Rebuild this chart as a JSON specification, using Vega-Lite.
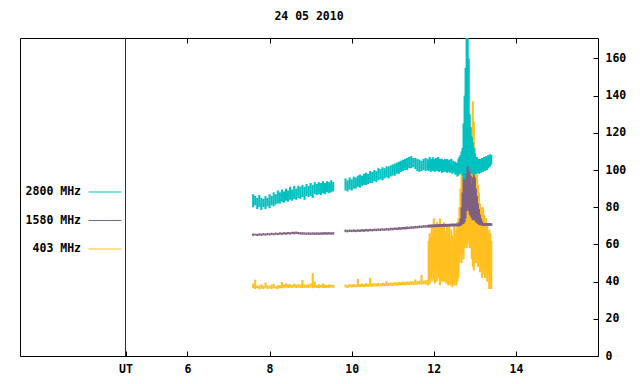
{
"$schema": "https://vega.github.io/schema/vega-lite/v6.json",
"width": 578, "height": 318,
"autosize": {"type": "none"},
"padding": {"left": 20, "top": 38, "right": 42, "bottom": 28},
"background": "white",
"title": {"text": "24 05 2010", "font": "DejaVu Sans Mono", "fontSize": 11.5, "fontWeight": "bold", "offset": 15, "anchor": "middle", "color": "black"},
"config": {
  "view": {"stroke": "black", "strokeWidth": 1},
  "axis": {"grid": false, "domain": false, "labelFont": "DejaVu Sans Mono", "labelFontSize": 11.5, "labelFontWeight": "bold", "labelColor": "black", "tickColor": "black", "tickSize": -5, "title": null}
},
"data": {"values": [
{"t":7.6,"tl":80,"th":87,"pl":64.6,"ph":65.9,"yl":36.5,"yh":39},
{"t":7.65,"tl":81,"th":86,"pl":64.8,"ph":65.8,"yl":36,"yh":41},
{"t":7.7,"tl":79,"th":85,"pl":64.5,"ph":65.7,"yl":36.5,"yh":38},
{"t":7.75,"tl":80,"th":86.5,"pl":64.8,"ph":66,"yl":35.8,"yh":37.8},
{"t":7.8,"tl":78.5,"th":85,"pl":64.6,"ph":65.8,"yl":36.2,"yh":38.5},
{"t":7.85,"tl":80,"th":84.5,"pl":64.9,"ph":66.1,"yl":36,"yh":37.8},
{"t":7.9,"tl":79,"th":86,"pl":64.7,"ph":65.9,"yl":36.5,"yh":39.5},
{"t":7.95,"tl":80.5,"th":85,"pl":65,"ph":66.2,"yl":36,"yh":38},
{"t":8.0,"tl":79.5,"th":87,"pl":64.8,"ph":66,"yl":36.3,"yh":37.8},
{"t":8.05,"tl":81,"th":86,"pl":65.1,"ph":66.3,"yl":36,"yh":38.5},
{"t":8.1,"tl":80.5,"th":88,"pl":64.9,"ph":66.1,"yl":36.5,"yh":38.8},
{"t":8.15,"tl":81.5,"th":87,"pl":65.2,"ph":66.4,"yl":36.2,"yh":37.6},
{"t":8.2,"tl":82,"th":89,"pl":65,"ph":66.2,"yl":36,"yh":38},
{"t":8.25,"tl":82,"th":88,"pl":65.3,"ph":66.5,"yl":36.5,"yh":38.2},
{"t":8.3,"tl":83,"th":89.5,"pl":65.1,"ph":66.3,"yl":36.4,"yh":39.8},
{"t":8.35,"tl":82.5,"th":88.5,"pl":65.4,"ph":66.6,"yl":36.6,"yh":38.4},
{"t":8.4,"tl":83.5,"th":90,"pl":65.2,"ph":66.4,"yl":36.8,"yh":39},
{"t":8.45,"tl":83,"th":89,"pl":65.5,"ph":66.7,"yl":36.5,"yh":38.5},
{"t":8.5,"tl":84,"th":91,"pl":65.3,"ph":66.5,"yl":36.8,"yh":38.6},
{"t":8.55,"tl":83.5,"th":89.5,"pl":65.6,"ph":66.8,"yl":36.6,"yh":38.2},
{"t":8.6,"tl":84.5,"th":91.5,"pl":65.4,"ph":66.8,"yl":36.9,"yh":38.8},
{"t":8.65,"tl":84,"th":90,"pl":65.6,"ph":66.9,"yl":36.5,"yh":38.4},
{"t":8.7,"tl":85,"th":91.5,"pl":65.4,"ph":66.7,"yl":36.8,"yh":38.6},
{"t":8.75,"tl":84.5,"th":91,"pl":65.3,"ph":66.6,"yl":36.6,"yh":38.5},
{"t":8.8,"tl":85.5,"th":92,"pl":65.2,"ph":66.6,"yl":36.5,"yh":40.8},
{"t":8.85,"tl":84,"th":91,"pl":65.3,"ph":66.5,"yl":36.7,"yh":38.6},
{"t":8.9,"tl":86,"th":92.5,"pl":65.1,"ph":66.4,"yl":36.8,"yh":38.2},
{"t":8.95,"tl":85.5,"th":91.5,"pl":65.2,"ph":66.5,"yl":36.6,"yh":38.5},
{"t":9.0,"tl":86,"th":93,"pl":65.1,"ph":66.4,"yl":36.8,"yh":39},
{"t":9.05,"tl":85,"th":92,"pl":65.2,"ph":66.5,"yl":36.5,"yh":44.5},
{"t":9.1,"tl":87,"th":93.5,"pl":65.1,"ph":66.4,"yl":36.8,"yh":40},
{"t":9.15,"tl":86.5,"th":92.5,"pl":65.2,"ph":66.5,"yl":36.6,"yh":38.2},
{"t":9.2,"tl":87,"th":93.5,"pl":65.1,"ph":66.4,"yl":36.5,"yh":38.6},
{"t":9.25,"tl":86.5,"th":93,"pl":65.2,"ph":66.5,"yl":36.8,"yh":38.2},
{"t":9.3,"tl":87.5,"th":94,"pl":65.2,"ph":66.5,"yl":36.6,"yh":39},
{"t":9.35,"tl":87,"th":93,"pl":65.3,"ph":66.6,"yl":36.5,"yh":38.4},
{"t":9.4,"tl":88,"th":94,"pl":65.2,"ph":66.5,"yl":36.7,"yh":38.2},
{"t":9.45,"tl":87.5,"th":93.5,"pl":65.3,"ph":66.6,"yl":36.6,"yh":38.5},
{"t":9.5,"tl":88,"th":94.5,"pl":65.2,"ph":66.5,"yl":36.8,"yh":38.3},
{"t":9.55,"tl":88.5,"th":93.5,"pl":65.3,"ph":66.6,"yl":36.6,"yh":38.2},
{"t":9.85,"tl":89,"th":95.5,"pl":66.6,"ph":68,"yl":36.8,"yh":38.4},
{"t":9.9,"tl":88.5,"th":94.5,"pl":66.5,"ph":67.8,"yl":36.6,"yh":38.2},
{"t":9.95,"tl":89.5,"th":96,"pl":66.7,"ph":68,"yl":37,"yh":38.6},
{"t":10.0,"tl":89,"th":95,"pl":66.6,"ph":67.9,"yl":36.8,"yh":38.5},
{"t":10.05,"tl":90,"th":96.5,"pl":66.7,"ph":68.1,"yl":37.1,"yh":38.8},
{"t":10.1,"tl":90,"th":96,"pl":66.6,"ph":67.9,"yl":36.9,"yh":38.4},
{"t":10.15,"tl":91,"th":97,"pl":66.8,"ph":68.1,"yl":37.2,"yh":41.5},
{"t":10.2,"tl":90.5,"th":97.5,"pl":66.7,"ph":68,"yl":37,"yh":38.7},
{"t":10.25,"tl":91.5,"th":97,"pl":66.9,"ph":68.2,"yl":37.2,"yh":39},
{"t":10.3,"tl":92,"th":98,"pl":66.8,"ph":68.1,"yl":37,"yh":38.6},
{"t":10.35,"tl":92,"th":98.5,"pl":67,"ph":68.3,"yl":37.3,"yh":39.2},
{"t":10.4,"tl":92.5,"th":98,"pl":66.9,"ph":68.2,"yl":37.1,"yh":38.8},
{"t":10.45,"tl":93,"th":99.5,"pl":67.1,"ph":68.4,"yl":37.4,"yh":42},
{"t":10.5,"tl":93,"th":99,"pl":67,"ph":68.3,"yl":37.2,"yh":39},
{"t":10.55,"tl":94,"th":100,"pl":67.2,"ph":68.5,"yl":37.5,"yh":39.2},
{"t":10.6,"tl":93.5,"th":99.5,"pl":67.1,"ph":68.4,"yl":37.3,"yh":38.9},
{"t":10.65,"tl":94.5,"th":101,"pl":67.3,"ph":68.6,"yl":37.5,"yh":39.3},
{"t":10.7,"tl":95,"th":100.5,"pl":67.2,"ph":68.5,"yl":37.4,"yh":39},
{"t":10.75,"tl":94.5,"th":101.5,"pl":67.4,"ph":68.7,"yl":37.6,"yh":39.4},
{"t":10.8,"tl":95.5,"th":101,"pl":67.3,"ph":68.6,"yl":37.5,"yh":39.1},
{"t":10.85,"tl":96,"th":102,"pl":67.5,"ph":68.8,"yl":37.7,"yh":40.3},
{"t":10.9,"tl":95.5,"th":102,"pl":67.4,"ph":68.7,"yl":37.6,"yh":39.3},
{"t":10.95,"tl":96.5,"th":102.5,"pl":67.6,"ph":69,"yl":37.8,"yh":39.6},
{"t":11.0,"tl":97,"th":103,"pl":67.6,"ph":68.9,"yl":37.7,"yh":39.3},
{"t":11.05,"tl":97,"th":103.5,"pl":67.8,"ph":69.1,"yl":37.9,"yh":39.7},
{"t":11.1,"tl":98,"th":104,"pl":67.7,"ph":69,"yl":37.8,"yh":39.5},
{"t":11.15,"tl":98,"th":104.5,"pl":67.9,"ph":69.3,"yl":38,"yh":39.8},
{"t":11.2,"tl":99,"th":105,"pl":67.9,"ph":69.2,"yl":37.9,"yh":39.6},
{"t":11.25,"tl":99.5,"th":105.5,"pl":68.1,"ph":69.4,"yl":38.1,"yh":40},
{"t":11.3,"tl":100,"th":106,"pl":68,"ph":69.4,"yl":38,"yh":39.7},
{"t":11.35,"tl":100,"th":106.5,"pl":68.2,"ph":69.6,"yl":38.2,"yh":40.1},
{"t":11.4,"tl":101,"th":107,"pl":68.2,"ph":69.5,"yl":38.1,"yh":39.9},
{"t":11.45,"tl":101,"th":107.5,"pl":68.4,"ph":69.8,"yl":38.3,"yh":40.2},
{"t":11.5,"tl":101.5,"th":106.5,"pl":68.4,"ph":69.7,"yl":38.2,"yh":40},
{"t":11.55,"tl":100.5,"th":106.5,"pl":68.6,"ph":70,"yl":38.4,"yh":41.2},
{"t":11.6,"tl":99.5,"th":106,"pl":68.6,"ph":69.9,"yl":38.3,"yh":40.2},
{"t":11.65,"tl":99,"th":105.5,"pl":68.8,"ph":70.2,"yl":38.5,"yh":40.5},
{"t":11.7,"tl":99.5,"th":105,"pl":68.8,"ph":70.1,"yl":38.4,"yh":43.5},
{"t":11.75,"tl":100,"th":106,"pl":69,"ph":70.4,"yl":38.6,"yh":40.6},
{"t":11.8,"tl":99.5,"th":106.5,"pl":69,"ph":70.3,"yl":38.5,"yh":40.8},
{"t":11.85,"tl":100,"th":106,"pl":69.1,"ph":70.5,"yl":38,"yh":41},
{"t":11.875,"tl":99.5,"th":105,"pl":69.2,"ph":70.6,"yl":38.5,"yh":62},
{"t":11.9,"tl":100.5,"th":107,"pl":69.1,"ph":70.5,"yl":39,"yh":66},
{"t":11.925,"tl":99,"th":105.5,"pl":69.3,"ph":70.7,"yl":42,"yh":64},
{"t":11.95,"tl":100,"th":106,"pl":69.2,"ph":70.6,"yl":40,"yh":70},
{"t":11.975,"tl":99.5,"th":107,"pl":69.3,"ph":70.7,"yl":45,"yh":66},
{"t":12.0,"tl":100,"th":105.5,"pl":69.2,"ph":70.6,"yl":41,"yh":74},
{"t":12.025,"tl":99,"th":106,"pl":69.4,"ph":70.8,"yl":39,"yh":68},
{"t":12.05,"tl":100.5,"th":106.5,"pl":69.3,"ph":70.7,"yl":48,"yh":70},
{"t":12.075,"tl":99.5,"th":105,"pl":69.4,"ph":70.8,"yl":40,"yh":72},
{"t":12.1,"tl":100,"th":107,"pl":69.3,"ph":70.7,"yl":45,"yh":65},
{"t":12.125,"tl":99,"th":105.5,"pl":69.5,"ph":70.9,"yl":42,"yh":71},
{"t":12.15,"tl":100,"th":106,"pl":69.4,"ph":70.8,"yl":38,"yh":74},
{"t":12.175,"tl":99.5,"th":105,"pl":69.5,"ph":70.9,"yl":48,"yh":66},
{"t":12.2,"tl":98.5,"th":106,"pl":69.4,"ph":70.8,"yl":40,"yh":70},
{"t":12.225,"tl":99.5,"th":105.5,"pl":69.6,"ph":71,"yl":52,"yh":68},
{"t":12.25,"tl":99,"th":104.5,"pl":69.5,"ph":70.9,"yl":40,"yh":72},
{"t":12.275,"tl":100,"th":106,"pl":69.6,"ph":71,"yl":45,"yh":67},
{"t":12.3,"tl":99,"th":105,"pl":69.5,"ph":70.9,"yl":39,"yh":64},
{"t":12.325,"tl":98.5,"th":106,"pl":69.7,"ph":71.1,"yl":42,"yh":70},
{"t":12.35,"tl":99.5,"th":104.5,"pl":69.6,"ph":71,"yl":38,"yh":66},
{"t":12.375,"tl":99,"th":105.5,"pl":69.7,"ph":71.1,"yl":44,"yh":70},
{"t":12.4,"tl":98.5,"th":104,"pl":69.6,"ph":71,"yl":38,"yh":62},
{"t":12.425,"tl":99.5,"th":106,"pl":69.8,"ph":71.2,"yl":41,"yh":68},
{"t":12.45,"tl":98,"th":104.5,"pl":69.7,"ph":71.1,"yl":37,"yh":65},
{"t":12.475,"tl":99,"th":105,"pl":69.8,"ph":71.2,"yl":42,"yh":64},
{"t":12.5,"tl":98.5,"th":104,"pl":69.7,"ph":71.1,"yl":38,"yh":70},
{"t":12.525,"tl":97.5,"th":104.5,"pl":69.8,"ph":71.2,"yl":40,"yh":66},
{"t":12.55,"tl":98,"th":103.5,"pl":69.7,"ph":71.1,"yl":38,"yh":68},
{"t":12.575,"tl":96.5,"th":104,"pl":69.8,"ph":71.2,"yl":40,"yh":72},
{"t":12.6,"tl":97,"th":106,"pl":69.8,"ph":71.4,"yl":42,"yh":74},
{"t":12.625,"tl":98,"th":107,"pl":69.8,"ph":72,"yl":50,"yh":80},
{"t":12.65,"tl":98,"th":108,"pl":70,"ph":74,"yl":54,"yh":90},
{"t":12.675,"tl":99,"th":110,"pl":70.5,"ph":80,"yl":50,"yh":100},
{"t":12.7,"tl":97,"th":112,"pl":71,"ph":88,"yl":55,"yh":105},
{"t":12.725,"tl":95,"th":125,"pl":71,"ph":96,"yl":52,"yh":100},
{"t":12.75,"tl":95,"th":140,"pl":72,"ph":100,"yl":58,"yh":110},
{"t":12.775,"tl":98,"th":155,"pl":74,"ph":103,"yl":60,"yh":108},
{"t":12.8,"tl":102,"th":171,"pl":78,"ph":106,"yl":58,"yh":100},
{"t":12.825,"tl":105,"th":171,"pl":80,"ph":107,"yl":60,"yh":98},
{"t":12.85,"tl":102,"th":160,"pl":78,"ph":104,"yl":62,"yh":102},
{"t":12.875,"tl":100,"th":130,"pl":76,"ph":100,"yl":58,"yh":96},
{"t":12.9,"tl":99,"th":123,"pl":75,"ph":97,"yl":58,"yh":104},
{"t":12.925,"tl":98,"th":118,"pl":74,"ph":92,"yl":52,"yh":118},
{"t":12.95,"tl":98,"th":115,"pl":73,"ph":96,"yl":48,"yh":137},
{"t":12.975,"tl":97,"th":112,"pl":74,"ph":99,"yl":46,"yh":126},
{"t":13.0,"tl":98,"th":109,"pl":73,"ph":96,"yl":50,"yh":112},
{"t":13.025,"tl":98,"th":107,"pl":72,"ph":90,"yl":55,"yh":104},
{"t":13.05,"tl":98.5,"th":107,"pl":71.5,"ph":86,"yl":50,"yh":100},
{"t":13.075,"tl":99,"th":106,"pl":71,"ph":82,"yl":48,"yh":92},
{"t":13.1,"tl":98,"th":105.5,"pl":70.5,"ph":79,"yl":52,"yh":88},
{"t":13.125,"tl":99,"th":106,"pl":70.5,"ph":76,"yl":45,"yh":82},
{"t":13.15,"tl":98.5,"th":105,"pl":70.3,"ph":74,"yl":50,"yh":80},
{"t":13.175,"tl":99.5,"th":106.5,"pl":70.2,"ph":72.5,"yl":42,"yh":78},
{"t":13.2,"tl":99,"th":105.5,"pl":70,"ph":71.5,"yl":48,"yh":80},
{"t":13.225,"tl":100,"th":107,"pl":70.1,"ph":71.5,"yl":44,"yh":76},
{"t":13.25,"tl":99.5,"th":106,"pl":70,"ph":71.4,"yl":42,"yh":72},
{"t":13.275,"tl":100.5,"th":107.5,"pl":70.1,"ph":71.5,"yl":46,"yh":74},
{"t":13.3,"tl":100,"th":106.5,"pl":70,"ph":71.4,"yl":40,"yh":70},
{"t":13.325,"tl":101,"th":108,"pl":70.1,"ph":71.5,"yl":44,"yh":66},
{"t":13.35,"tl":101.5,"th":107.5,"pl":70,"ph":71.4,"yl":36,"yh":68},
{"t":13.375,"tl":102,"th":108.5,"pl":70.1,"ph":71.5,"yl":37,"yh":66},
{"t":13.4,"tl":103,"th":108,"pl":70,"ph":71.4,"yl":36,"yh":62}
]},
"layer": [
  {
    "mark": {"type": "rule", "strokeWidth": 2.1, "clip": true},
    "encoding": {
      "x": {"field": "t", "type": "quantitative", "scale": {"domain": [1.92, 16.0], "nice": false, "zero": false},
            "axis": {"orient": "bottom", "values": [4.49, 6, 8, 10, 12, 14], "labelExpr": "datum.value < 5 ? 'UT' : datum.label", "labelPadding": 12.5, "tickSize": -5, "labelFlush": false}},
      "y": {"field": "yl", "type": "quantitative", "scale": {"domain": [0, 171], "nice": false},
            "axis": {"orient": "right", "values": [0, 20, 40, 60, 80, 100, 120, 140, 160], "labelPadding": 12, "tickSize": -5}},
      "y2": {"field": "yh"},
      "color": {"datum": "403 MHz", "scale": {"domain": ["2800 MHz", "1580 MHz", "403 MHz"], "range": ["#00c0c0", "#806080", "#ffc020"]},
                "legend": {"orient": "none", "legendX": 68, "legendY": 137, "title": null, "symbolType": "stroke", "symbolSize": 1089, "symbolStrokeWidth": 1, "labelAlign": "right", "labelOffset": -41, "labelFont": "DejaVu Sans Mono", "labelFontSize": 11.5, "labelFontWeight": "bold", "labelColor": "black", "rowPadding": 5.5, "padding": 0}}
    }
  },
  {
    "mark": {"type": "rule", "strokeWidth": 2.1, "clip": true},
    "encoding": {
      "x": {"field": "t", "type": "quantitative", "axis": null},
      "y": {"field": "pl", "type": "quantitative", "axis": null},
      "y2": {"field": "ph"},
      "color": {"datum": "1580 MHz"}
    }
  },
  {
    "mark": {"type": "rule", "strokeWidth": 2.1, "clip": true},
    "encoding": {
      "x": {"field": "t", "type": "quantitative", "axis": null},
      "y": {"field": "tl", "type": "quantitative", "axis": null},
      "y2": {"field": "th"},
      "color": {"datum": "2800 MHz"}
    }
  },
  {
    "mark": {"type": "rule", "color": "#a00000", "strokeWidth": 1},
    "encoding": {
      "x": {"datum": 4.49, "type": "quantitative", "axis": {"orient": "top", "labels": false, "values": [6, 8, 10, 12, 14], "tickSize": -5}}
    }
  }
],
"resolve": {"axis": {"x": "independent", "y": "independent"}}
}
